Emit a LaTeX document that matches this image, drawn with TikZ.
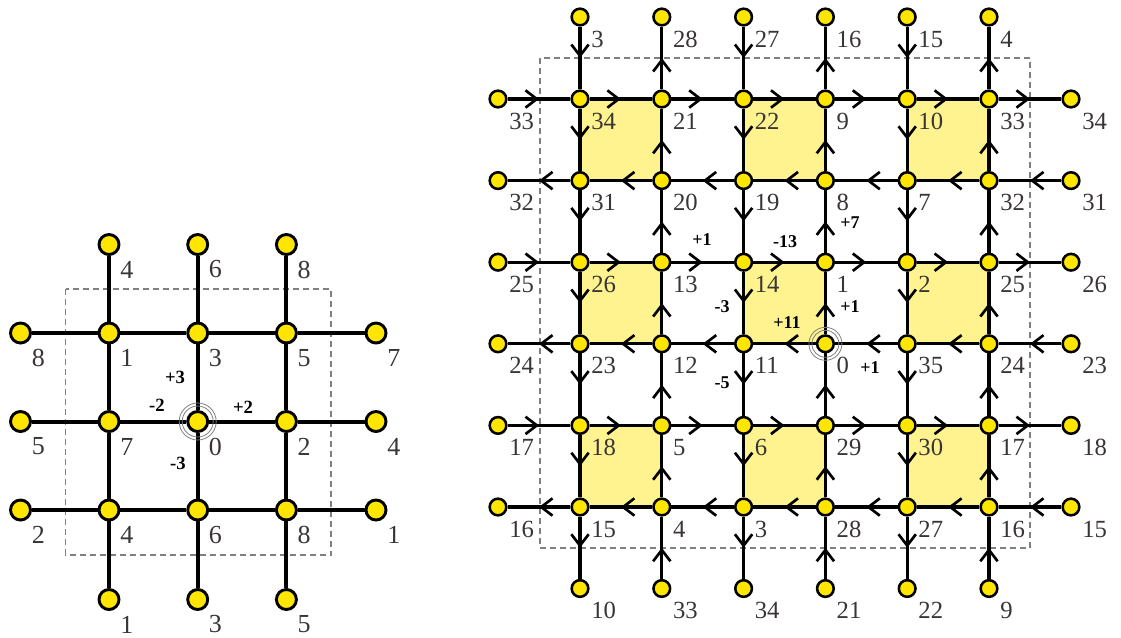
\documentclass[tikz,border=0pt]{standalone}
\usepackage{fontspec}
\setmainfont{Liberation Serif}
\usetikzlibrary{arrows.meta,decorations.markings}
\definecolor{nodey}{HTML}{FFE600}
\definecolor{celly}{HTML}{FFF38F}
\definecolor{labc}{HTML}{3A3535}
\definecolor{dashc}{HTML}{808080}
\begin{document}
\begin{tikzpicture}[x=0.75pt,y=-0.75pt,
  lnode/.style={circle,draw=black,fill=nodey,line width=2.2pt,minimum size=15pt,inner sep=0pt},
  rnode/.style={circle,draw=black,fill=nodey,line width=1.9pt,minimum size=12.5pt,inner sep=0pt},
  lline/.style={line width=3pt},
  rline/.style={line width=2.4pt},
  marr/.style={postaction={decorate},decoration={markings,mark=at position 0.5 with {\arrow{Straight Barb[length=8.5pt,width=13pt,line width=2pt]}}}},
  llab/.style={anchor=west,inner sep=0pt,text=labc,font=\fontsize{19.5}{20}\selectfont},
  rlab/.style={anchor=west,inner sep=0pt,text=labc,font=\fontsize{18.5}{19}\selectfont},
  lbold/.style={inner sep=0pt,font=\fontsize{14}{14}\selectfont\bfseries},
  rbold/.style={inner sep=0pt,font=\fontsize{13.5}{14}\selectfont\bfseries},
  ring/.style={draw=gray,line width=0.6pt},
  dashbox/.style={draw=dashc,line width=0.8pt,dash pattern=on 4.5pt off 3pt}
]
\useasboundingbox (0,0) rectangle (1121,637);

% ---------- background: dashed frames and yellow cells ----------
\draw[dashbox] (65.5,289) rectangle (331,555);
\draw[dashbox] (540,58) rectangle (1030,548);
\foreach \r/\c in {0/0,0/2,0/4,2/0,2/2,2/4,4/0,4/2,4/4}{
  \fill[celly] ({580+81.8*\c},{99+81.6*\r}) rectangle ({580+81.8*(\c+1)},{99+81.6*(\r+1)});
}

% ---------- left grid nodes ----------
\foreach \i/\lst in {0/{1,3,5},1/{7,0,2},2/{4,6,8}}{
  \foreach \t [count=\jj from 0] in \lst {
    \pgfmathsetmacro\xx{109+88.7*\jj}
    \pgfmathsetmacro\yy{333+88.5*\i}
    \node[lnode] (L\i\jj) at (\xx,\yy) {};
    \node[llab] (LLab\i\jj) at (\xx+11,\yy+25) {\t};
  }
}
\foreach \t [count=\jj from 0] in {4,6,8}{
  \pgfmathsetmacro\xx{109+88.7*\jj}
  \node[lnode] (LT\jj) at (\xx,244.5) {};
  \node[llab] (LTLab\jj) at (\xx+11,269.5) {\t};
}
\foreach \t [count=\jj from 0] in {1,3,5}{
  \pgfmathsetmacro\xx{109+88.7*\jj}
  \node[lnode] (LB\jj) at (\xx,599.5) {};
  \node[llab] (LBLab\jj) at (\xx+11,624.5) {\t};
}
\foreach \t [count=\ii from 0] in {8,5,2}{
  \pgfmathsetmacro\yy{333+88.5*\ii}
  \node[lnode] (LL\ii) at (20.5,\yy) {};
  \node[llab] (LLLab\ii) at (31.5,\yy+25) {\t};
}
\foreach \t [count=\ii from 0] in {7,4,1}{
  \pgfmathsetmacro\yy{333+88.5*\ii}
  \node[lnode] (LR\ii) at (376,\yy) {};
  \node[llab] (LRLab\ii) at (387,\yy+25) {\t};
}

% ---------- left grid lines ----------
\foreach \i in {0,1,2}{
  \foreach \a/\b in {LL\i/L\i0, L\i0/L\i1, L\i1/L\i2, L\i2/LR\i}{
    \draw[lline] (\a) -- (\b);
  }
}
\foreach \j in {0,1,2}{
  \foreach \a/\b in {LT\j/L0\j, L0\j/L1\j, L1\j/L2\j, L2\j/LB\j}{
    \draw[lline] (\a) -- (\b);
  }
}
\draw[ring] (L11) circle[radius=15.5];
\draw[ring] (L11) circle[radius=18.5];
\node[lbold] (lp3) at (175,377) {+3};
\node[lbold] (lm2) at (157,405) {-2};
\node[lbold] (lp2) at (243,407) {+2};
\node[lbold] (lm3) at (178,463) {-3};

% ---------- right grid nodes ----------
\foreach \i/\lst in {0/{34,21,22,9,10,33},1/{31,20,19,8,7,32},2/{26,13,14,1,2,25},3/{23,12,11,0,35,24},4/{18,5,6,29,30,17},5/{15,4,3,28,27,16}}{
  \foreach \t [count=\jj from 0] in \lst {
    \pgfmathsetmacro\xx{580+81.8*\jj}
    \pgfmathsetmacro\yy{99+81.6*\i}
    \node[rnode] (R\i\jj) at (\xx,\yy) {};
    \node[rlab] (RLab\i\jj) at (\xx+11,\yy+22) {\t};
  }
}
\foreach \t [count=\jj from 0] in {3,28,27,16,15,4}{
  \pgfmathsetmacro\xx{580+81.8*\jj}
  \node[rnode] (RT\jj) at (\xx,17) {};
  \node[rlab] (RTLab\jj) at (\xx+11,39) {\t};
}
\foreach \t [count=\jj from 0] in {10,33,34,21,22,9}{
  \pgfmathsetmacro\xx{580+81.8*\jj}
  \node[rnode] (RB\jj) at (\xx,588.5) {};
  \node[rlab] (RBLab\jj) at (\xx+11,610.5) {\t};
}
\foreach \t [count=\ii from 0] in {33,32,25,24,17,16}{
  \pgfmathsetmacro\yy{99+81.6*\ii}
  \node[rnode] (RL\ii) at (498,\yy) {};
  \node[rlab] (RLLab\ii) at (509,\yy+22) {\t};
}
\foreach \t [count=\ii from 0] in {34,31,26,23,18,15}{
  \pgfmathsetmacro\yy{99+81.6*\ii}
  \node[rnode] (RR\ii) at (1071,\yy) {};
  \node[rlab] (RRLab\ii) at (1082,\yy+22) {\t};
}

% ---------- right grid directed edges ----------
\foreach \i in {0,...,5}{
  \foreach \a/\b in {RL\i/R\i0, R\i0/R\i1, R\i1/R\i2, R\i2/R\i3, R\i3/R\i4, R\i4/R\i5, R\i5/RR\i}{
    \ifodd\i\relax \draw[rline,marr] (\b) -- (\a); \else \draw[rline,marr] (\a) -- (\b); \fi
  }
}
\foreach \j in {0,...,5}{
  \foreach \a/\b in {RT\j/R0\j, R0\j/R1\j, R1\j/R2\j, R2\j/R3\j, R3\j/R4\j, R4\j/R5\j, R5\j/RB\j}{
    \ifodd\j\relax \draw[rline,marr] (\b) -- (\a); \else \draw[rline,marr] (\a) -- (\b); \fi
  }
}
\draw[ring] (R33) circle[radius=13.5];
\draw[ring] (R33) circle[radius=16.5];
\node[rbold] (rp1a) at (702,240) {+1};
\node[rbold] (rm13) at (785,242) {-13};
\node[rbold] (rp7) at (850,223) {+7};
\node[rbold] (rm3) at (722,307) {-3};
\node[rbold] (rp1b) at (850,307) {+1};
\node[rbold] (rp11) at (787,323) {+11};
\node[rbold] (rm5) at (722,383) {-5};
\node[rbold] (rp1c) at (870,368) {+1};
\end{tikzpicture}
\end{document}
